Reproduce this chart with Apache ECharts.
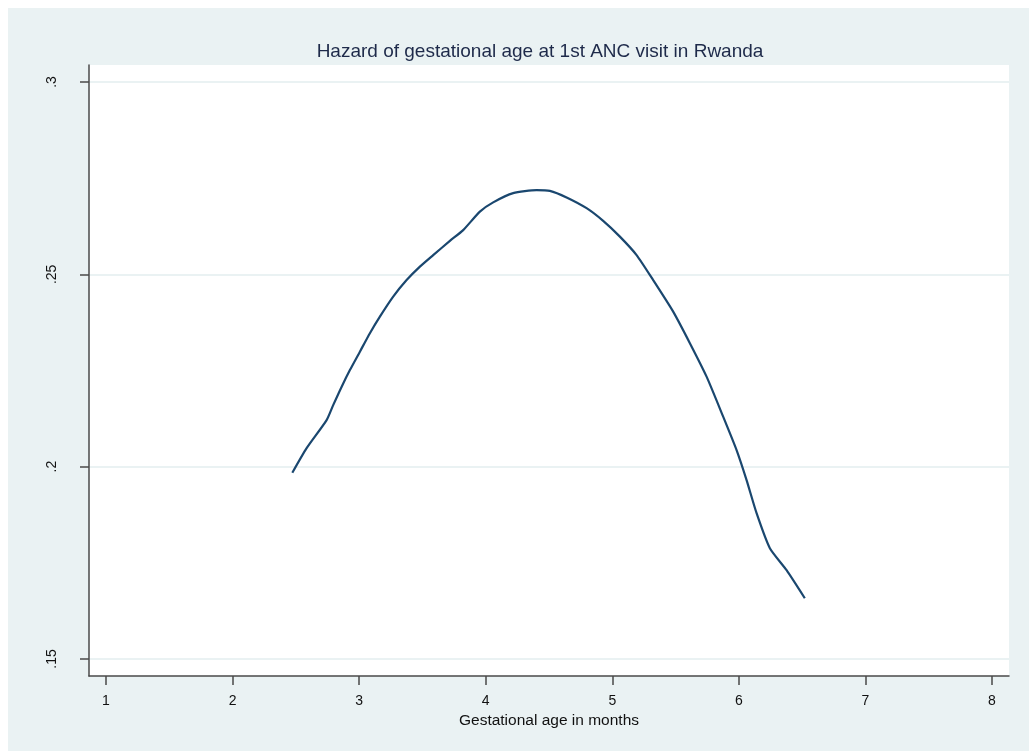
<!DOCTYPE html>
<html>
<head>
<meta charset="utf-8">
<title>Hazard of gestational age at 1st ANC visit in Rwanda</title>
<script src="https://cdn.jsdelivr.net/npm/echarts@6/dist/echarts.min.js"></script>
<style>
  html, body { margin: 0; padding: 0; background: #fff; }
  #chart { width: 1029px; height: 751px; }
</style>
</head>
<body>
<div id="chart"></div>
<script>
// gestational age (months) and smoothed hazard
const ageMonths = [
  2.472, 2.585, 2.743, 2.795, 2.862, 2.927, 3.006, 3.085, 3.164, 3.269,
  3.375, 3.480, 3.585, 3.717, 3.822, 3.954, 4.059, 4.217, 4.402, 4.507,
  4.639, 4.797, 4.928, 5.060, 5.192, 5.323, 5.481, 5.613, 5.745, 5.876,
  5.982, 6.061, 6.140, 6.245, 6.377, 6.521
]
const hazard = [
  0.1984, 0.2048, 0.2121, 0.2160, 0.2208, 0.2251, 0.2299, 0.2347, 0.2390, 0.2442,
  0.2485, 0.2520, 0.2550, 0.2587, 0.2615, 0.2663, 0.2687, 0.2711, 0.2719, 0.2717,
  0.2700, 0.2672, 0.2639, 0.2598, 0.2550, 0.2485, 0.2403, 0.2321, 0.2234, 0.2130,
  0.2043, 0.1965, 0.1879, 0.1788, 0.1731, 0.1658
]

const xTicks = [1, 2, 3, 4, 5, 6, 7, 8]
const yTicks = [0.15, 0.2, 0.25, 0.3]
const yTickLabels = ['.15', '.2', '.25', '.3']

const chart = echarts.init(document.getElementById('chart'))

const axisColor = '#4a4a4a'
const bgColor = '#eaf2f3'

chart.setOption({
  animation: false,
  backgroundColor: '#fff',
  textStyle: { fontFamily: 'Liberation Sans, Arial, sans-serif' },
  graphic: [
    {
      type: 'rect',
      z: -10,
      shape: { x: 8, y: 8, width: 1021, height: 743 },
      style: { fill: bgColor }
    }
  ],
  title: {
    text: 'Hazard of gestational age at 1st ANC visit in Rwanda',
    left: 535,
    top: 37,
    textAlign: 'center',
    textStyle: {
      fontSize: 19,
      fontWeight: 'normal',
      color: '#1e2a4a',
      fontFamily: 'Liberation Sans, Arial, sans-serif'
    }
  },
  grid: {
    left: 89,
    right: 20,
    top: 65,
    bottom: 75,
    show: true,
    backgroundColor: '#fff',
    borderWidth: 0
  },
  xAxis: {
    type: 'value',
    min: 0.8657,
    max: 8.1343,
    name: 'Gestational age in months',
    nameLocation: 'middle',
    nameGap: 33,
    nameTextStyle: { fontSize: 15.5, color: '#111' },
    axisLine: { show: true, onZero: false, lineStyle: { color: axisColor, width: 1.5 } },
    axisTick: { show: true, length: 9, customValues: xTicks, lineStyle: { color: axisColor, width: 1.5 } },
    axisLabel: { customValues: xTicks, margin: 18, fontSize: 14, color: '#111' },
    splitLine: { show: false }
  },
  yAxis: {
    type: 'value',
    min: 0.14558,
    max: 0.30442,
    axisLine: { show: true, onZero: false, lineStyle: { color: axisColor, width: 1.5 } },
    axisTick: { show: true, length: 9, customValues: yTicks, lineStyle: { color: axisColor, width: 1.5 } },
    axisLabel: {
      customValues: yTicks,
      rotate: 90,
      margin: 30,
      fontSize: 14,
      color: '#111',
      formatter: (v) => {
        const i = yTicks.findIndex((t) => Math.abs(t - v) < 1e-6)
        return i >= 0 ? yTickLabels[i] : ''
      }
    },
    splitLine: { show: true, lineStyle: { color: bgColor, width: 2 } }
  },
  series: [
    {
      type: 'line',
      data: ageMonths.map((x, i) => [x, hazard[i]]),
      showSymbol: false,
      smooth: 0.2,
      lineStyle: { color: '#1a476f', width: 2.2 }
    }
  ]
})
</script>
</body>
</html>
